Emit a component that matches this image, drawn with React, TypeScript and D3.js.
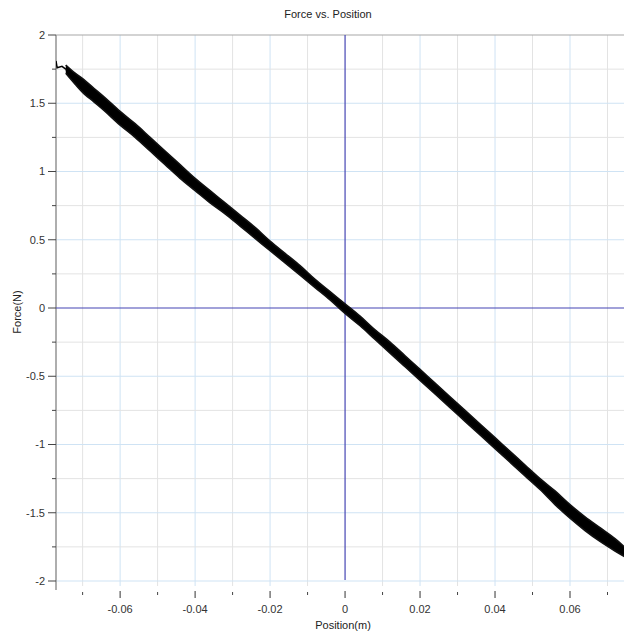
import React from "react";
import * as d3 from "d3";

// ---- data ----
const title = "Force vs. Position";
const xLabel = "Position(m)";
const yLabel = "Force(N)";

const xTicks = [-0.06, -0.04, -0.02, 0, 0.02, 0.04, 0.06];
const xMinorTicks = [-0.07, -0.05, -0.03, -0.01, 0.01, 0.03, 0.05, 0.07];
const yTicks = [-2, -1.5, -1, -0.5, 0, 0.5, 1, 1.5, 2];
const yMinorTicks = [-1.75, -1.25, -0.75, -0.25, 0.25, 0.75, 1.25, 1.75];

const positions = [
  -0.0745, -0.072, -0.07, -0.067, -0.064, -0.06, -0.056, -0.052, -0.048, -0.044,
  -0.04, -0.036, -0.032, -0.028, -0.024, -0.02, -0.016, -0.012, -0.008, -0.004,
  0, 0.004, 0.008, 0.012, 0.016, 0.02, 0.024, 0.028, 0.032, 0.036,
  0.04, 0.044, 0.048, 0.052, 0.056, 0.06, 0.064, 0.068, 0.072, 0.0745,
];
const forceCentre = [
  1.75, 1.68, 1.63, 1.56, 1.49, 1.39, 1.3, 1.2, 1.1, 1.0,
  0.91, 0.82, 0.73, 0.64, 0.55, 0.46, 0.37, 0.28, 0.18, 0.09,
  0.0, -0.09, -0.19, -0.29, -0.39, -0.49, -0.59, -0.69, -0.79, -0.89,
  -0.99, -1.09, -1.19, -1.29, -1.39, -1.49, -1.58, -1.66, -1.73, -1.78,
];
const forceUpper = [
  1.78, 1.72, 1.68, 1.61, 1.54, 1.44, 1.35, 1.25, 1.15, 1.05,
  0.95, 0.86, 0.77, 0.68, 0.59, 0.49, 0.4, 0.31, 0.21, 0.12,
  0.03, -0.06, -0.16, -0.25, -0.35, -0.45, -0.55, -0.65, -0.75, -0.85,
  -0.95, -1.05, -1.15, -1.25, -1.34, -1.44, -1.53, -1.61, -1.69, -1.75,
];
const forceLower = [
  1.72, 1.64, 1.58, 1.51, 1.44, 1.34, 1.25, 1.15, 1.05, 0.95,
  0.86, 0.77, 0.69, 0.6, 0.51, 0.42, 0.33, 0.24, 0.15, 0.06,
  -0.04, -0.13, -0.23, -0.33, -0.43, -0.53, -0.63, -0.73, -0.83, -0.93,
  -1.03, -1.13, -1.23, -1.33, -1.44, -1.54, -1.63, -1.71, -1.78, -1.82,
];
const startPositions = [-0.0771, -0.0768, -0.0755, -0.0745];
const startForces = [1.81, 1.76, 1.77, 1.75];

const W = 624;
const H = 632;
const L = 56;
const R = 624;
const T = 35;
const B = 586;

export default function App() {
  const x = d3.scaleLinear().domain([-0.0771, 0.0744]).range([L, R]);
  const y = d3.scaleLinear().domain([-2, 2]).range([581, T]);

  const idx = positions.map((_, i) => i);
  const area = d3
    .area<number>()
    .x((i) => x(positions[i]))
    .y0((i) => y(forceLower[i]))
    .y1((i) => y(forceUpper[i]))
    .curve(d3.curveCatmullRom);
  const line = (arr: number[]) =>
    d3
      .line<number>()
      .x((i) => x(positions[i]))
      .y((i) => y(arr[i]))
      .curve(d3.curveCatmullRom)(idx) || "";
  const startLine =
    d3
      .line<number>()
      .x((i) => x(startPositions[i]))
      .y((i) => y(startForces[i]))(startPositions.map((_, i) => i)) || "";

  const font = "'Liberation Sans', Arial, sans-serif";
  const majorGrid = "#cfe3f4";
  const minorGrid = "#e3e3e3";
  const zeroCol = "#4545b3";

  return (
    <svg
      width={W}
      height={H}
      style={{ position: "absolute", left: 0, top: 0, background: "#fff" }}
      fontFamily={font}
    >
      <defs>
        <clipPath id="plot">
          <rect x={L} y={T} width={R - L} height={B - T} />
        </clipPath>
      </defs>
      {/* grid */}
      {xMinorTicks.map((v) => (
        <line key={"xm" + v} x1={x(v)} x2={x(v)} y1={T} y2={B} stroke={minorGrid} strokeWidth={1} />
      ))}
      {xTicks.filter((v) => v !== 0).map((v) => (
        <line key={"xg" + v} x1={x(v)} x2={x(v)} y1={T} y2={B} stroke={majorGrid} strokeWidth={1} />
      ))}
      {yMinorTicks.map((v) => (
        <line key={"ym" + v} x1={L} x2={R} y1={y(v)} y2={y(v)} stroke={minorGrid} strokeWidth={1} />
      ))}
      {yTicks.filter((v) => v !== 0 && v !== 2).map((v) => (
        <line key={"yg" + v} x1={L} x2={R} y1={y(v)} y2={y(v)} stroke={majorGrid} strokeWidth={1} />
      ))}
      {/* frame */}
      <line x1={L} x2={R} y1={T} y2={T} stroke="#a8a8a8" strokeWidth={1.2} />
      <line x1={L} x2={L} y1={T} y2={590} stroke="#9a9a9a" strokeWidth={1.6} />
      {/* zero lines */}
      <line x1={x(0)} x2={x(0)} y1={T} y2={580} stroke={zeroCol} strokeWidth={1.2} />
      <line x1={L} x2={R} y1={y(0)} y2={y(0)} stroke={zeroCol} strokeWidth={1.2} />
      {/* data */}
      <g clipPath="url(#plot)">
        <path d={area(idx) || ""} fill="#000" />
        <path d={line(forceUpper)} fill="none" stroke="#111" strokeWidth={1.6} />
        <path d={line(forceLower)} fill="none" stroke="#111" strokeWidth={1.6} />
        <path d={line(forceCentre)} fill="none" stroke="#000" strokeWidth={2} />
        <path d={startLine} fill="none" stroke="#000" strokeWidth={1.5} />
      </g>
      {/* y ticks */}
      {yTicks.map((v) => (
        <g key={"yt" + v}>
          <line x1={48} x2={L} y1={y(v)} y2={y(v)} stroke="#444" strokeWidth={1} />
          <text x={45} y={y(v)} dy="0.35em" textAnchor="end" fontSize={11} fill="#333">
            {d3.format("")(v).replace("−", "-")}
          </text>
        </g>
      ))}
      {yMinorTicks.map((v) => (
        <line key={"ytm" + v} x1={52} x2={L} y1={y(v)} y2={y(v)} stroke="#444" strokeWidth={1} />
      ))}
      {/* x ticks */}
      {xTicks.map((v) => (
        <g key={"xt" + v}>
          <line x1={x(v)} x2={x(v)} y1={591} y2={598} stroke="#333" strokeWidth={1} />
          <text x={x(v)} y={613} textAnchor="middle" fontSize={11} fill="#333">
            {v === 0 ? "0" : d3.format(".2f")(v).replace("−", "-")}
          </text>
        </g>
      ))}
      {xMinorTicks.map((v) => (
        <line key={"xtm" + v} x1={x(v)} x2={x(v)} y1={592} y2={595} stroke="#444" strokeWidth={1} />
      ))}
      {/* titles */}
      <text x={328} y={18} textAnchor="middle" fontSize={11} fill="#222">
        {title}
      </text>
      <text x={343} y={629} textAnchor="middle" fontSize={11} fill="#222">
        {xLabel}
      </text>
      <text
        transform={`translate(21, 312) rotate(-90)`}
        textAnchor="middle"
        fontSize={11}
        fill="#222"
      >
        {yLabel}
      </text>
    </svg>
  );
}
